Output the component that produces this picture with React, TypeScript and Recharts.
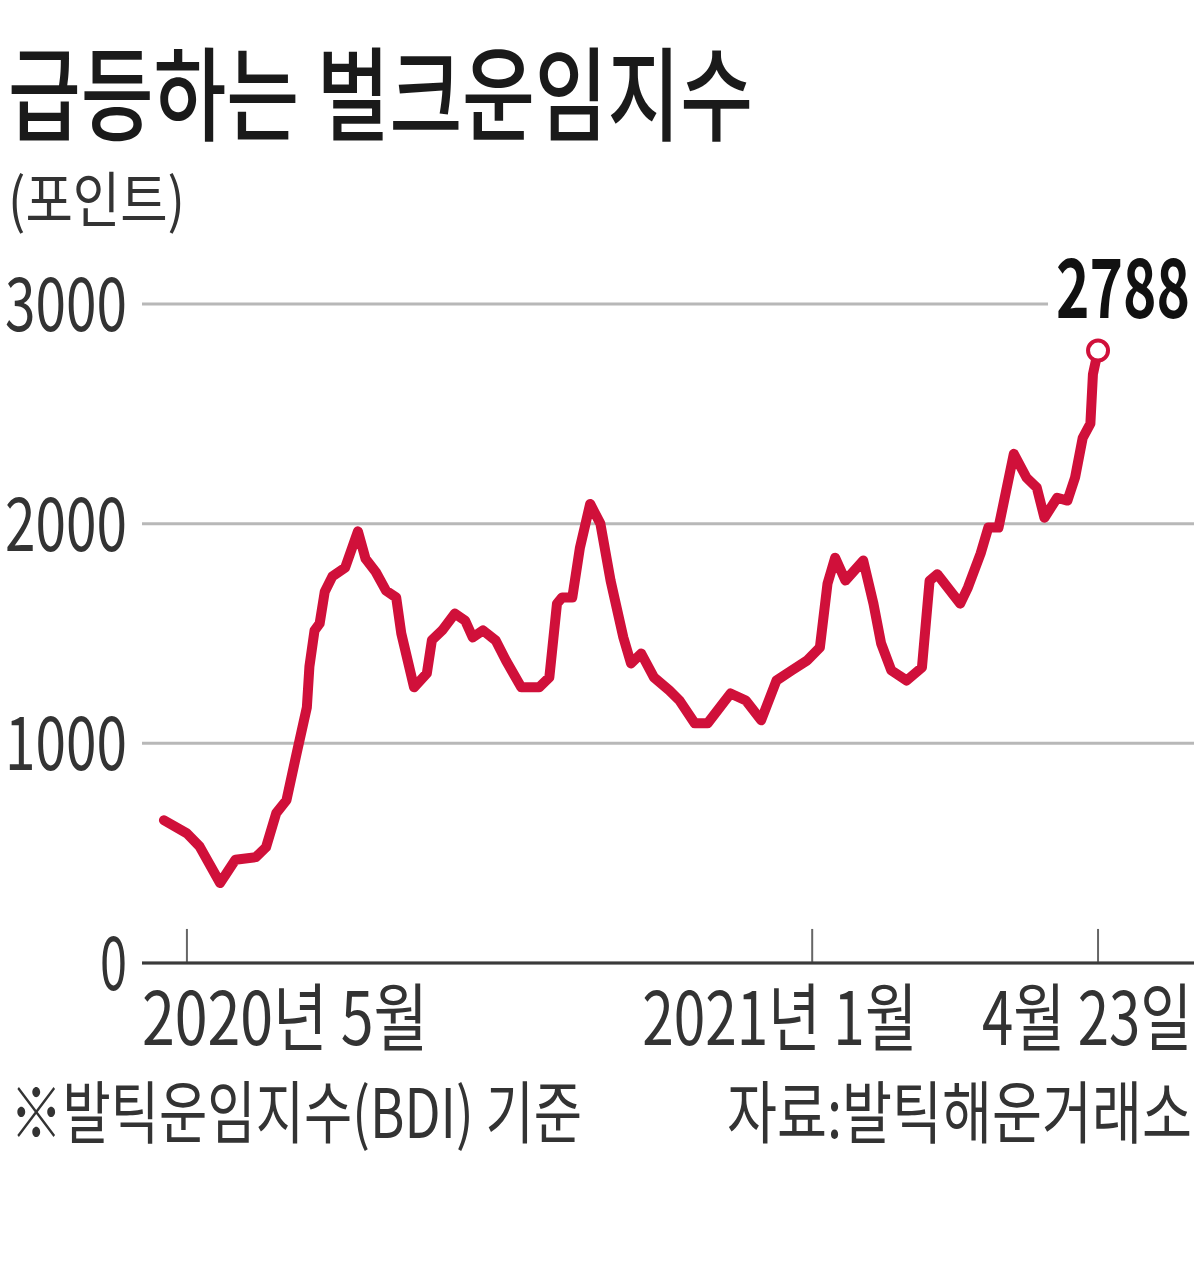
import React from 'react';
import { LineChart, Line, XAxis, YAxis, CartesianGrid, ReferenceLine } from 'recharts';

const dates = [
  '2020-04-22', '2020-05-01', '2020-05-06', '2020-05-14', '2020-05-20', '2020-05-28',
  '2020-06-01', '2020-06-05', '2020-06-09', '2020-06-13', '2020-06-17', '2020-06-18',
  '2020-06-20', '2020-06-22', '2020-06-24', '2020-06-27', '2020-07-02', '2020-07-07',
  '2020-07-10', '2020-07-14', '2020-07-18', '2020-07-22', '2020-07-24', '2020-07-29',
  '2020-08-03', '2020-08-05', '2020-08-09', '2020-08-14', '2020-08-18', '2020-08-21',
  '2020-08-25', '2020-08-30', '2020-09-03', '2020-09-09', '2020-09-16', '2020-09-20',
  '2020-09-23', '2020-09-25', '2020-09-29', '2020-10-02', '2020-10-06', '2020-10-10',
  '2020-10-14', '2020-10-19', '2020-10-22', '2020-10-26', '2020-10-31', '2020-11-06',
  '2020-11-10', '2020-11-16', '2020-11-21', '2020-11-30', '2020-12-06', '2020-12-12',
  '2020-12-18', '2020-12-24', '2020-12-30', '2021-01-04', '2021-01-07', '2021-01-10',
  '2021-01-14', '2021-01-21', '2021-01-25', '2021-01-28', '2021-02-01', '2021-02-07',
  '2021-02-13', '2021-02-16', '2021-02-19', '2021-02-28', '2021-03-03', '2021-03-08',
  '2021-03-11', '2021-03-15', '2021-03-21', '2021-03-26', '2021-03-30', '2021-04-02',
  '2021-04-07', '2021-04-11', '2021-04-14', '2021-04-17', '2021-04-20', '2021-04-21',
  '2021-04-23',
];

const bdi = [
  650, 590, 530, 364, 470, 482,
  527, 682, 741, 955, 1164, 1350,
  1514, 1545, 1690, 1760, 1800, 1965,
  1840, 1780, 1695, 1664, 1500, 1255,
  1318, 1470, 1514, 1591, 1559, 1482,
  1514, 1468, 1377, 1255, 1255, 1300,
  1636, 1664, 1664, 1891, 2090, 2000,
  1741, 1482, 1364, 1409, 1300, 1241,
  1195, 1091, 1091, 1227, 1195, 1105,
  1286, 1332, 1377, 1436, 1727, 1845,
  1741, 1832, 1636, 1455, 1332, 1286,
  1345, 1740, 1770, 1636, 1709, 1864,
  1982, 1982, 2318, 2209, 2164, 2027,
  2118, 2105, 2210, 2391, 2455, 2680,
  2788,
];

const baseDate = '2020-05-01';
const xTickDates = ['2020-05-01', '2021-01-01', '2021-04-23'];
const xTickLabels = ['2020년 5월', '2021년 1월', '4월 23일'];
const yTicks = [0, 1000, 2000, 3000];

const title = '급등하는 벌크운임지수';
const unitLabel = '(포인트)';
const noteLeft = '※발틱운임지수(BDI) 기준';
const noteRight = '자료:발틱해운거래소';

const DAY = 86400000;
const toDay = (d: string) => (Date.parse(d) - Date.parse(baseDate)) / DAY;

const data = dates.map((d, i) => ({ day: toDay(d), value: bdi[i] }));
const xTicks = xTickDates.map(toDay);
const lastIndex = data.length - 1;

const RED = '#d0103a';
const FONT = '"Noto Sans CJK KR", "Noto Sans", sans-serif';

const xLabelLayout = [
  { anchor: 'start', dx: -45, len: 286 },
  { anchor: 'start', dx: -170, len: 275 },
  { anchor: 'end', dx: 94, len: 210 },
];

const XTick = (props: any) => {
  const { x, payload, index } = props;
  const lay = xLabelLayout[index] || xLabelLayout[0];
  return (
    <text
      x={x + lay.dx}
      y={1045}
      textAnchor={lay.anchor}
      fontFamily={FONT}
      fontSize={74}
      fill="#333"
      textLength={lay.len}
      lengthAdjust="spacingAndGlyphs"
    >
      {xTickLabels[xTicks.indexOf(payload.value)]}
    </text>
  );
};

const YTick = (props: any) => {
  const { y, payload } = props;
  const s = String(payload.value);
  return (
    <text
      x={127}
      y={y + 27}
      textAnchor="end"
      fontFamily={FONT}
      fontSize={75}
      fill="#333"
      textLength={s.length === 1 ? 27 : 122}
      lengthAdjust="spacingAndGlyphs"
    >
      {s}
    </text>
  );
};

const EndDot = (props: any) => {
  const { cx, cy, index } = props;
  if (index !== lastIndex) return <g key={`d${index}`} />;
  return <circle key={`d${index}`} cx={cx} cy={cy} r={10} fill="#fff" stroke={RED} strokeWidth={4} />;
};

const EndLabel = (props: any) => {
  const { x, y, index, value } = props;
  if (index !== lastIndex) return null;
  return (
    <g>
      <rect x={x - 50} y={y - 60} width={150} height={25} fill="#fff" />
      <text
        x={x - 42}
        y={y - 33}
        fontFamily={FONT}
        fontWeight={700}
        fontSize={82}
        fill="#111"
        textLength={134}
        lengthAdjust="spacingAndGlyphs"
      >
        {value}
      </text>
    </g>
  );
};

export default function App() {
  return (
    <div style={{ position: 'absolute', left: 0, top: 0, width: 1200, height: 1264, background: '#fff', overflow: 'hidden' }}>
      <LineChart
        width={1200}
        height={1264}
        data={data}
        margin={{ top: 304, right: 6, bottom: 241, left: 82 }}
        style={{ position: 'absolute', left: 0, top: 0 }}
      >
        <CartesianGrid horizontal vertical={false} stroke="#b8b8b8" strokeWidth={3} />
        <XAxis
          type="number"
          dataKey="day"
          domain={[-17.6, 394.6]}
          ticks={xTicks}
          interval={0}
          allowDataOverflow
          axisLine={{ stroke: '#3a3a3a', strokeWidth: 3 }}
          tickLine={false}
          tick={<XTick />}
          height={60}
        />
        <YAxis
          type="number"
          domain={[0, 3000]}
          ticks={yTicks}
          interval={0}
          axisLine={false}
          tickLine={false}
          tick={<YTick />}
          width={60}
        />
        {xTicks.map((t) => (
          <ReferenceLine
            key={t}
            segment={[{ x: t, y: 0 }, { x: t, y: 155 }]}
            stroke="#666"
            strokeWidth={2}
          />
        ))}
        <Line
          type="linear"
          dataKey="value"
          stroke={RED}
          strokeWidth={10}
          strokeLinejoin="round"
          strokeLinecap="round"
          dot={<EndDot />}
          activeDot={false}
          label={<EndLabel />}
          isAnimationActive={false}
        />
      </LineChart>
      <svg width={1200} height={1264} style={{ position: 'absolute', left: 0, top: 0, pointerEvents: 'none' }}>
        <text x={8} y={133} fontFamily={FONT} fontWeight={500} fontSize={102} fill="#1a1a1a" textLength={745} lengthAdjust="spacingAndGlyphs">
          {title}
        </text>
        <text x={8} y={222} fontFamily={FONT} fontSize={60} fill="#333" textLength={177} lengthAdjust="spacingAndGlyphs">
          {unitLabel}
        </text>
        <text x={10} y={1138} fontFamily={FONT} fontSize={68} fill="#333" textLength={572} lengthAdjust="spacingAndGlyphs">
          {noteLeft}
        </text>
        <text x={1192} y={1138} textAnchor="end" fontFamily={FONT} fontSize={68} fill="#333" textLength={465} lengthAdjust="spacingAndGlyphs">
          {noteRight}
        </text>
      </svg>
    </div>
  );
}
